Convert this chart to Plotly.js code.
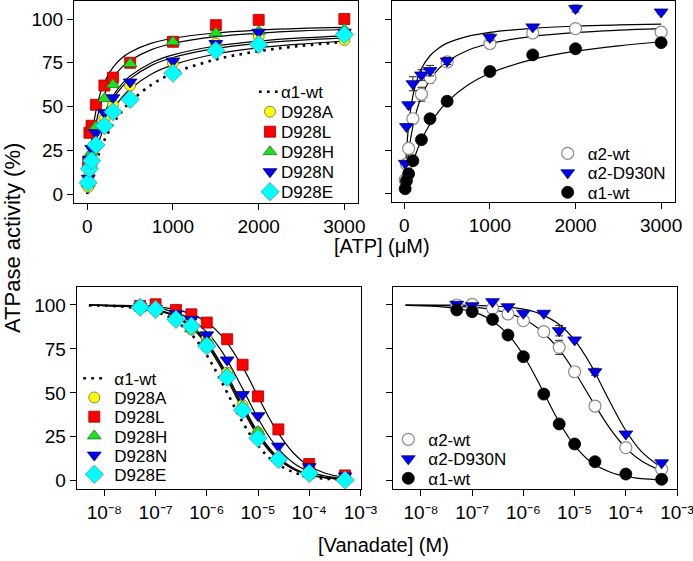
<!DOCTYPE html>
<html>
<head>
<meta charset="utf-8">
<script src="https://cdn.plot.ly/plotly-3.0.1.min.js"></script>
<style>
html,body{margin:0;padding:0;background:#fff;}
#chart{width:693px;height:561px;}
</style>
</head>
<body>
<div id="chart"></div>
<script>
// ---------- ATP titration (top panels) ----------
const atpConc = [10, 25, 50, 100, 200, 300, 500, 1000, 1500, 2000, 3000];
const atp_D928A = [4, 11, 17, 27, 43, 51, 62, 75, 86, 90, 88];
const atp_D928L = [18, 35, 39, 51, 62, 66.5, 75, 87, 96.5, 99.5, 100];
const atp_D928H = [6, 16, 24, 38.5, 54.5, 62.5, 74.5, 87, 92, 93, 94];
const atp_D928N = [9, 20, 26, 35, 46.5, 55, 64, 76, 86, 92.5, 92.5];
const atp_D928E = [6.5, 14.5, 19, 28, 39, 47, 54, 69, 82, 85.5, 91];
const atp_a2wt = [8, 17, 26, 43, 57, 66.5, 75.5, 86, 92, 94.5, 92.5];
const atp_a2D930N = [17.5, 38.5, 51, 63, 68, 70.5, 76, 89.5, 95.5, 106, 104];
const atp_a1wt = [3, 7.5, 11.5, 19, 31, 43, 53, 70, 79.5, 83, 86.5];
// error bars (SEM) visible in the top-right panel
const atpErr_a2wt = [0, 0, 0, 0, 4, 3, 0, 2, 0, 0, 0];
const atpErr_a2D930N = [0, 0, 0, 4, 3, 3, 2, 2, 1, 2, 1];

// fitted curves
const atpFitX = [0, 25, 50, 100, 150, 200, 300, 400, 500, 750, 1000, 1500, 2000, 2500, 3000];
const atpFit_a1wt = [0, 5.3, 10.0, 18.2, 25.0, 30.8, 40.0, 47.1, 52.6, 62.5, 69.0, 76.9, 81.6, 84.7, 87.0];
const atpFit_D928L = [0, 18.4, 31.0, 47.2, 57.2, 63.9, 72.4, 77.6, 81.0, 86.2, 89.0, 92.0, 93.6, 94.6, 95.2];
const atpFit_D928H = [0, 14.4, 25.2, 40.1, 50.0, 57.0, 66.3, 72.2, 76.3, 82.5, 86.0, 89.9, 91.9, 93.2, 94.0];
const atpFit_D928N = [0, 9.9, 18.0, 30.3, 39.3, 46.2, 56.0, 62.6, 67.4, 75.0, 79.5, 84.6, 87.4, 89.2, 90.4];
const atpFit_D928A = [0, 9.4, 17.1, 29.1, 37.9, 44.7, 54.3, 61.0, 65.8, 73.5, 78.0, 83.2, 86.1, 87.9, 89.2];
const atpFit_D928E = [0, 7.4, 13.7, 24.0, 32.0, 38.4, 48.0, 54.9, 60.0, 68.6, 73.8, 80.0, 83.5, 85.7, 87.3];
const atpFit_a2wt = [0, 13.7, 24.0, 38.7, 48.6, 55.7, 65.3, 71.5, 75.7, 82.3, 86.0, 90.1, 92.3, 93.6, 94.5];
const atpFit_a2D930N = [0, 24.2, 38.9, 56.0, 65.5, 71.7, 79.0, 83.3, 86.2, 90.2, 92.4, 94.7, 95.9, 96.6, 97.1];

// ---------- Vanadate inhibition (bottom panels) ----------
const vanConc = [5e-8, 1e-7, 2.5e-7, 5e-7, 1e-6, 2.5e-6, 5e-6, 1e-5, 2.5e-5, 1e-4, 5e-4];
const van_D928A = [99, 98, 93, 86, 81, 61.5, 43, 27.5, 13, 3.5, 1];
const van_D928L = [99.5, 100.4, 97.2, 94.7, 90, 80.5, 66, 48, 29.2, 9.5, 3];
const van_D928H = [99, 98, 93, 86.5, 80, 61, 42.5, 28, 12.7, 3.8, 0.8];
const van_D928N = [99, 98, 95, 91.8, 83, 68.7, 49, 37, 19.7, 8, 2.7];
const van_D928E = [98.7, 97.5, 91.8, 88, 76.7, 58.8, 40.2, 24.1, 12.1, 4.2, 0.4];
const van_a2wt = [100, 100.4, 98.1, 94.9, 91.1, 84.8, 75.9, 62, 42.5, 18.8, 6.6];
const van_a2D930N = [100.4, 99.6, 101.9, 99, 95.3, 95.3, 85.4, 80.1, 62, 26.6, 10.2];
const van_a1wt = [97.2, 96.2, 91.8, 82.9, 70.6, 49.3, 32.3, 20.9, 10.8, 3.8, 0.8];
const vanErr_a2wt = [0, 0, 0, 0, 2, 0, 4, 0, 0, 0, 2];
const vanErr_a2D930N = [0, 0, 0, 0, 0, 0, 3, 0, 2, 0, 0];

const vanFitX = [5e-9, 2e-8, 5e-8, 1e-7, 2e-7, 5e-7, 1e-6, 2e-6, 5e-6, 1e-5, 2e-5, 5e-5, 1e-4, 2e-4, 5e-4];
const vanFit_a1wt = [99.8, 99.2, 98.0, 96.2, 92.6, 83.3, 71.4, 55.6, 33.3, 20.0, 11.1, 4.8, 2.4, 1.2, 0.5];
const vanFit_D928L = [99.9, 99.8, 99.5, 98.9, 97.9, 94.8, 90.2, 82.2, 64.8, 47.9, 31.5, 15.5, 8.4, 4.4, 1.8];
const vanFit_D928N = [99.9, 99.6, 99.1, 98.2, 96.5, 91.7, 84.6, 73.3, 52.4, 35.5, 21.6, 9.9, 5.2, 2.7, 1.1];
const vanFit_D928A = [99.9, 99.4, 98.6, 97.3, 94.7, 87.8, 78.3, 64.3, 41.9, 26.5, 15.3, 6.7, 3.5, 1.8, 0.7];
const vanFit_D928H = [99.9, 99.5, 98.7, 97.4, 95.0, 88.4, 79.2, 65.5, 43.2, 27.5, 16.0, 7.1, 3.7, 1.9, 0.8];
const vanFit_D928E = [99.9, 99.4, 98.6, 97.1, 94.4, 87.2, 77.3, 63.0, 40.5, 25.4, 14.5, 6.4, 3.3, 1.7, 0.7];
const vanFit_a2wt = [99.9, 99.7, 99.3, 98.8, 97.8, 95.4, 92.0, 86.5, 74.6, 62.0, 47.5, 29.4, 18.7, 11.3, 5.5];
const vanFit_a2D930N = [100, 99.95, 99.9, 99.8, 99.5, 98.8, 97.6, 95.2, 88.9, 80.0, 66.7, 44.4, 28.6, 16.7, 7.4];

const atpTicks = [0, 1000, 2000, 3000];
const yTicks = [0, 25, 50, 75, 100];
const vanTicks = [1e-8, 1e-7, 1e-6, 1e-5, 1e-4, 1e-3];
const vanTickText = ['10⁻⁸', '10⁻⁷', '10⁻⁶', '10⁻⁵', '10⁻⁴', '10⁻³'];

const FONT = 'Liberation Sans, Arial, sans-serif';

const sty = {
  D928A: {symbol: 'circle', size: 11, color: '#FFFF00', line: {color: '#6a6a40', width: 0.8}},
  D928L: {symbol: 'square', size: 11, color: '#FF0000', line: {color: '#a00000', width: 0.8}},
  D928H: {symbol: 'triangle-up', size: 12, color: '#1EE01E', line: {color: '#1d7a1d', width: 0.8}},
  D928N: {symbol: 'triangle-down', size: 12, color: '#0000F0', line: {color: '#000070', width: 0.8}},
  D928E: {symbol: 'diamond', size: 14, color: '#00FFFF', line: {color: '#3c9c9c', width: 0.8}},
  a2wt: {symbol: 'circle', size: 12, color: '#FFFFFF', line: {color: '#8a8a8a', width: 1.2}},
  a2D930N: {symbol: 'triangle-down', size: 12, color: '#0000F0', line: {color: '#000070', width: 0.8}},
  a1wt: {symbol: 'circle', size: 12, color: '#000000', line: {color: '#000000', width: 0.8}}
};

function fit(x, y, xa, ya, dotted, legendName, legendId) {
  return {
    x: x, y: y, xaxis: xa, yaxis: ya, mode: 'lines', type: 'scatter',
    line: dotted ? {color: '#000', width: 2.6, dash: '2.6px,5.4px', shape: 'spline', smoothing: 1}
                 : {color: '#000', width: 1.2, shape: 'spline', smoothing: 1},
    name: legendName || '', showlegend: !!legendName, legend: legendId || 'legend',
    hoverinfo: 'skip'
  };
}
function pts(x, y, xa, ya, name, s, legendId, err) {
  const t = {
    x: x, y: y, xaxis: xa, yaxis: ya, mode: 'markers', type: 'scatter', name: name,
    marker: {symbol: s.symbol, size: s.size, color: s.color, line: s.line},
    showlegend: true, legend: legendId, cliponaxis: false
  };
  if (err) t.error_y = {type: 'data', array: err, visible: true, color: '#222', thickness: 1, width: 4};
  return t;
}

const data = [
  // top-left
  fit(atpFitX, atpFit_a1wt, 'x', 'y', true, 'α1-wt', 'legend'),
  fit(atpFitX, atpFit_D928L, 'x', 'y'),
  fit(atpFitX, atpFit_D928H, 'x', 'y'),
  fit(atpFitX, atpFit_D928N, 'x', 'y'),
  fit(atpFitX, atpFit_D928A, 'x', 'y'),
  fit(atpFitX, atpFit_D928E, 'x', 'y'),
  pts(atpConc, atp_D928A, 'x', 'y', 'D928A', sty.D928A, 'legend'),
  pts(atpConc, atp_D928L, 'x', 'y', 'D928L', sty.D928L, 'legend'),
  pts(atpConc, atp_D928H, 'x', 'y', 'D928H', sty.D928H, 'legend'),
  pts(atpConc, atp_D928N, 'x', 'y', 'D928N', sty.D928N, 'legend'),
  pts(atpConc, atp_D928E, 'x', 'y', 'D928E', sty.D928E, 'legend'),
  // top-right
  fit(atpFitX, atpFit_a2D930N, 'x2', 'y2'),
  fit(atpFitX, atpFit_a2wt, 'x2', 'y2'),
  fit(atpFitX, atpFit_a1wt, 'x2', 'y2'),
  pts(atpConc, atp_a2wt, 'x2', 'y2', 'α2-wt', sty.a2wt, 'legend2', atpErr_a2wt),
  pts(atpConc, atp_a2D930N, 'x2', 'y2', 'α2-D930N', sty.a2D930N, 'legend2', atpErr_a2D930N),
  pts(atpConc, atp_a1wt, 'x2', 'y2', 'α1-wt', sty.a1wt, 'legend2'),
  // bottom-left
  fit(vanFitX, vanFit_a1wt, 'x3', 'y3', true, 'α1-wt', 'legend3'),
  fit(vanFitX, vanFit_D928L, 'x3', 'y3'),
  fit(vanFitX, vanFit_D928N, 'x3', 'y3'),
  fit(vanFitX, vanFit_D928H, 'x3', 'y3'),
  fit(vanFitX, vanFit_D928A, 'x3', 'y3'),
  fit(vanFitX, vanFit_D928E, 'x3', 'y3'),
  pts(vanConc, van_D928A, 'x3', 'y3', 'D928A', sty.D928A, 'legend3'),
  pts(vanConc, van_D928L, 'x3', 'y3', 'D928L', sty.D928L, 'legend3'),
  pts(vanConc, van_D928H, 'x3', 'y3', 'D928H', sty.D928H, 'legend3'),
  pts(vanConc, van_D928N, 'x3', 'y3', 'D928N', sty.D928N, 'legend3'),
  pts(vanConc, van_D928E, 'x3', 'y3', 'D928E', sty.D928E, 'legend3'),
  // bottom-right
  fit(vanFitX, vanFit_a2D930N, 'x4', 'y4'),
  fit(vanFitX, vanFit_a2wt, 'x4', 'y4'),
  fit(vanFitX, vanFit_a1wt, 'x4', 'y4'),
  pts(vanConc, van_a2wt, 'x4', 'y4', 'α2-wt', sty.a2wt, 'legend4', vanErr_a2wt),
  pts(vanConc, van_a2D930N, 'x4', 'y4', 'α2-D930N', sty.a2D930N, 'legend4', vanErr_a2D930N),
  pts(vanConc, van_a1wt, 'x4', 'y4', 'α1-wt', sty.a1wt, 'legend4')
];

const W = 693, H = 561;
const px = v => v / W;
const py = v => 1 - v / H;

function xax(d, range, extra) {
  return Object.assign({
    domain: [px(d[0]), px(d[1])], range: range, showgrid: false, zeroline: false,
    showline: true, mirror: true, linecolor: '#000', linewidth: 1,
    ticks: 'outside', ticklen: 6, tickwidth: 1, tickcolor: '#000', ticklabeloverflow: 'allow',
    tickfont: {family: FONT, size: 19, color: '#000'}, automargin: false, fixedrange: true
  }, extra);
}
function yax(d, range, extra) {
  return Object.assign({
    domain: [py(d[1]), py(d[0])], range: range, showgrid: false, zeroline: false,
    showline: true, mirror: true, linecolor: '#000', linewidth: 1,
    ticks: 'outside', ticklen: 6, tickwidth: 1, tickcolor: '#000',
    tickmode: 'array', tickvals: yTicks,
    tickfont: {family: FONT, size: 19, color: '#000'}, automargin: false, fixedrange: true
  }, extra);
}
function leg(xp, yp) {
  return {x: px(xp), y: py(yp), xanchor: 'left', yanchor: 'top', bgcolor: 'rgba(0,0,0,0)',
          borderwidth: 0, font: {family: FONT, size: 17, color: '#000'}, traceorder: 'normal'};
}

const layout = {
  width: W, height: H,
  margin: {l: 0, r: 0, t: 0, b: 0},
  paper_bgcolor: '#fff', plot_bgcolor: '#fff',
  font: {family: FONT, color: '#000'},
  showlegend: true,
  xaxis: xax([74, 358], [-155, 3159], {anchor: 'y', tickmode: 'array', tickvals: atpTicks}),
  yaxis: yax([1, 203], [-5.14, 110.3], {anchor: 'x'}),
  xaxis2: xax([392, 675], [-144, 3162], {anchor: 'y2', tickmode: 'array', tickvals: atpTicks}),
  yaxis2: yax([1, 202], [-4.6, 110.3], {anchor: 'x2', showticklabels: false}),
  xaxis3: xax([76.7, 360.7], [-8.54, -2.995], {anchor: 'y3', type: 'log', tickmode: 'array', tickvals: vanTicks, ticktext: vanTickText}),
  yaxis3: yax([287.3, 489], [-4.72, 110.07], {anchor: 'x3'}),
  xaxis4: xax([393.3, 677.3], [-8.54, -2.995], {anchor: 'y4', type: 'log', tickmode: 'array', tickvals: vanTicks, ticktext: vanTickText}),
  yaxis4: yax([287.3, 489], [-4.72, 110.07], {anchor: 'x4', showticklabels: false}),
  legend: leg(250, 75),
  legend2: leg(548, 138),
  legend3: leg(74, 362),
  legend4: leg(388, 423),
  annotations: [
    {text: 'ATPase activity (%)', xref: 'paper', yref: 'paper', x: px(12), y: py(238),
     xanchor: 'center', yanchor: 'middle', textangle: -90, showarrow: false,
     font: {family: FONT, size: 22, color: '#000'}},
    {text: '[ATP] (μM)', xref: 'paper', yref: 'paper', x: px(382), y: py(246),
     xanchor: 'center', yanchor: 'middle', showarrow: false,
     font: {family: FONT, size: 20, color: '#000'}},
    {text: '[Vanadate] (M)', xref: 'paper', yref: 'paper', x: px(383), y: py(545),
     xanchor: 'center', yanchor: 'middle', showarrow: false,
     font: {family: FONT, size: 20, color: '#000'}}
  ]
};

// compact legend layout (symbol centre x, first row y, row spacing)
const legendPos = {
  legend: {sx: 270, y0: 91.7, sp: 20.0},
  legend2: {sx: 567.7, y0: 153.3, sp: 19.5},
  legend3: {sx: 94.3, y0: 378.3, sp: 19.2},
  legend4: {sx: 408.3, y0: 439.3, sp: 19.5}
};

function compactLegends(gd) {
  Object.keys(legendPos).forEach(id => {
    const g = gd.querySelector('g.infolayer > g.' + id);
    if (!g) return;
    const p = legendPos[id];
    g.setAttribute('transform', 'translate(' + (p.sx - 20) + ',' + (p.y0 - 20) + ')');
    const sb = g.querySelector('g.scrollbox');
    if (sb) sb.setAttribute('transform', 'translate(0,0)');
    const items = g.querySelectorAll('g.traces');
    items.forEach((it, i) => {
      it.setAttribute('transform', 'translate(0,' + (20 + i * p.sp) + ')');
      const t = it.querySelector('text.legendtext');
      if (t) t.setAttribute('x', 31);
      it.querySelectorAll('g.legendlines path').forEach(pa => pa.setAttribute('d', 'M9,0h19'));
    });
  });
  // drop empty placeholder text nodes Plotly leaves for unused titles
  gd.querySelectorAll('text').forEach(t => {
    if (!t.textContent || !t.textContent.trim()) t.remove();
  });
}

const gd = document.getElementById('chart');
Plotly.newPlot(gd, data, layout, {staticPlot: true, displayModeBar: false}).then(compactLegends);
</script>
</body>
</html>
